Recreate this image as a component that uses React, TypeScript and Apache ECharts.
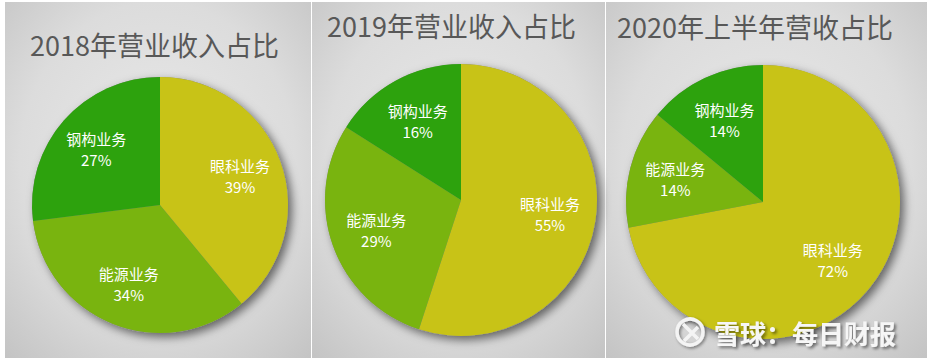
import React, { useEffect, useRef } from "react";
import * as echarts from "echarts";

const titles = ["2018年营业收入占比", "2019年营业收入占比", "2020年上半年营收占比"];
const categories = ["眼科业务", "能源业务", "钢构业务"];
const share2018 = [39, 34, 27];
const share2019 = [55, 29, 16];
const share2020H1 = [72, 14, 14];
const sliceColors = ["#C8C317", "#79B40F", "#2DA20D"];
const watermark = "雪球：每日财报";

const panels = [
  { x: 5, w: 306, cx: 160, cy: 205, r: 128, tx: 30, ty: 44, values: share2018 },
  { x: 312, w: 293, cx: 461, cy: 200, r: 136, tx: 327, ty: 25, values: share2019 },
  { x: 606, w: 321, cx: 763, cy: 202, r: 137, tx: 617, ty: 26, values: share2020H1 },
];

const FONT = "'Noto Sans CJK SC', 'Noto Sans', sans-serif";

export default function App() {
  const ref = useRef<HTMLDivElement>(null);
  useEffect(() => {
    if (!ref.current) return;
    const chart = echarts.init(ref.current, undefined, { renderer: "svg" });
    const series: any[] = [];
    const graphic: any[] = [];
    panels.forEach((p, i) => {
      graphic.push({
        type: "rect",
        z: -10,
        shape: { x: p.x, y: 2, width: p.w, height: 356 },
        style: {
          fill: new echarts.graphic.RadialGradient(0.5, 0.45, 0.75, [
            { offset: 0, color: "#e9e9e9" },
            { offset: 0.6, color: "#dcdcdc" },
            { offset: 1, color: "#c3c3c3" },
          ]),
        },
      });
      graphic.push({
        type: "text",
        z: 5,
        x: p.tx,
        y: p.ty,
        style: {
          text: titles[i],
          fill: "#585858",
          font: `27px ${FONT}`,
          verticalAlign: "middle",
        },
      });
      const data = categories.map((c, k) => ({
        name: c,
        value: p.values[k],
        itemStyle: { color: sliceColors[k] },
      }));
      series.push({
        type: "pie",
        z: 1,
        silent: true,
        center: [p.cx, p.cy],
        radius: p.r,
        label: { show: false },
        labelLine: { show: false },
        data: [{ value: 1 }],
        itemStyle: {
          color: "#8a8a8a",
          shadowBlur: 10,
          shadowOffsetX: 4,
          shadowOffsetY: 4,
          shadowColor: "rgba(0,0,0,0.55)",
        },
      });
      series.push({
        type: "pie",
        z: 2,
        silent: true,
        center: [p.cx, p.cy],
        radius: p.r,
        startAngle: 90,
        label: { show: false },
        labelLine: { show: false },
        data,
      });
      series.push({
        type: "pie",
        z: 3,
        silent: true,
        center: [p.cx, p.cy],
        radius: [Math.round(p.r * 0.28), p.r],
        startAngle: 90,
        itemStyle: { color: "rgba(0,0,0,0)" },
        labelLine: { show: false },
        label: {
          show: true,
          position: "inside",
          formatter: "{n|{b}}\n{v|{c}%}",
          rich: {
            n: { color: "#ffffff", fontSize: 15, lineHeight: 21, fontFamily: FONT },
            v: { color: "#ffffff", fontSize: 15, lineHeight: 21, fontFamily: FONT },
          },
        },
        data: data.map((d) => ({ name: d.name, value: d.value })),
      });
    });
    // watermark
    graphic.push({
      type: "group",
      z: 100,
      children: [
        {
          type: "circle",
          z: 100,
          shape: { cx: 690, cy: 332, r: 13 },
          style: {
            fill: "none",
            stroke: "#f4f4f4",
            lineWidth: 3.5,
            shadowBlur: 3,
            shadowColor: "rgba(0,0,0,0.45)",
            shadowOffsetX: 1.5,
            shadowOffsetY: 1.5,
          },
        },
        {
          type: "polyline",
          z: 100,
          shape: { points: [[683, 324], [692, 333], [684, 341]] },
          style: { fill: "none", stroke: "#f4f4f4", lineWidth: 3.5 },
        },
        {
          type: "polyline",
          z: 100,
          shape: { points: [[698, 327], [692, 333], [698, 339]] },
          style: { fill: "none", stroke: "#f4f4f4", lineWidth: 3.5 },
        },
        {
          type: "text",
          z: 100,
          x: 714,
          y: 332,
          style: {
            text: watermark,
            fill: "#f6f6f6",
            font: `bold 26px ${FONT}`,
            verticalAlign: "middle",
            textShadowColor: "rgba(0,0,0,0.5)",
            textShadowBlur: 3,
            textShadowOffsetX: 2,
            textShadowOffsetY: 2,
          },
        },
      ],
    });
    chart.setOption({
      animation: false,
      backgroundColor: "#ffffff",
      graphic,
      series,
    });
    return () => chart.dispose();
  }, []);
  return (
    <div
      ref={ref}
      style={{ position: "fixed", left: 0, top: 0, width: 927, height: 363 }}
    />
  );
}
